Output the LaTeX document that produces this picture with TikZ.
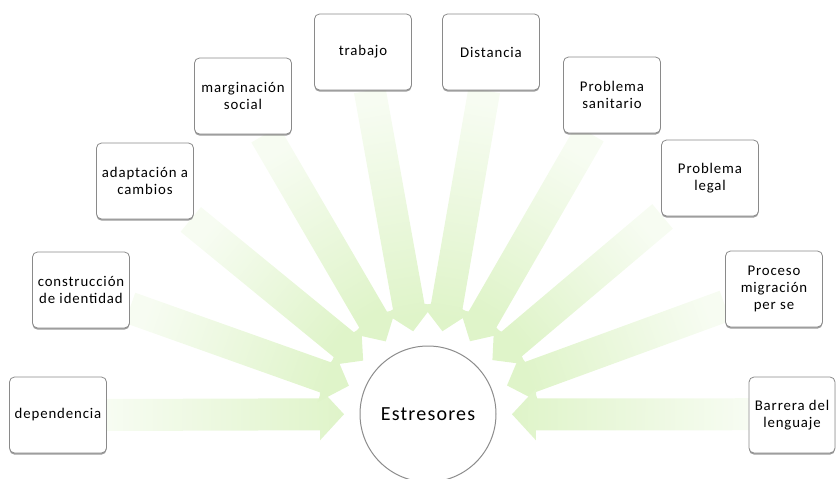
\documentclass[tikz,border=0pt]{standalone}
\usepackage{fontspec}
\setmainfont{Carlito}[LetterSpace=6]
\usetikzlibrary{calc, shadows}

\pgfdeclarelayer{bg}
\pgfsetlayers{bg,main}

\definecolor{arrowtip}{HTML}{DFF4C9}
\definecolor{arrowtail}{HTML}{F7FCF2}
\definecolor{boxline}{HTML}{8A8A8A}

\tikzset{
    stressor/.style={draw=boxline, fill=white, line width=.8pt, rounded corners=5pt,
        minimum width=97pt, minimum height=76pt, inner sep=2pt, align=center,
        font=\fontsize{14.8}{17}\selectfont,
        drop shadow={shadow xshift=0pt, shadow yshift=-1.6pt, fill=black!55, opacity=.7}},
    hub/.style={circle, draw=black!45, fill=white, line width=1pt, minimum size=136pt,
        inner sep=0pt, font=\fontsize{20}{24}\selectfont},
}

\begin{document}
\begin{tikzpicture}[x=1pt, y=-1pt]
    \useasboundingbox (0,0) rectangle (836,479);

    % stressors round the hub
    \node[stressor] (dep)   at (58,415)  {dependencia};
    \node[stressor] (cons)  at (81,290)  {construcción\\de identidad};
    \node[stressor] (adap)  at (145,181) {adaptación a\\cambios};
    \node[stressor] (marg)  at (243,96)  {marginación\\social};
    \node[stressor] (trab)  at (363,52)  {trabajo};
    \node[stressor] (dist)  at (491,52)  {Distancia};
    \node[stressor] (sani)  at (612,95)  {Problema\\sanitario};
    \node[stressor] (legal) at (710,178) {Problema\\legal};
    \node[stressor] (proc)  at (774,289) {Proceso\\migración\\per se};
    \node[stressor, minimum width=86pt] (barr) at (792,415) {Barrera del\\lenguaje};

    \node[hub] (hub) at (428,414) {Estresores};

    % block arrows towards the hub
    \begin{pgfonlayer}{bg}
    \foreach \b in {dep,cons,adap,marg,trab,dist,sani,legal,proc,barr}{
        \pgfmathanglebetweenpoints{\pgfpointanchor{\b}{center}}{\pgfpointanchor{hub}{center}}
        \let\ang\pgfmathresult
        \shade[bottom color=arrowtail, top color=arrowtip, shading angle=\ang-90]
            let \p1=(\b.\ang), \p2=($(hub)!84pt!(\b)$), \p3=($(\p2)+(\ang+180:24pt)$) in
            ($(\p1)+(\ang+90:16pt)$) -- ($(\p3)+(\ang+90:16pt)$) -- ($(\p3)+(\ang+90:26pt)$)
            -- (\p2) -- ($(\p3)+(\ang-90:26pt)$) -- ($(\p3)+(\ang-90:16pt)$)
            -- ($(\p1)+(\ang-90:16pt)$) -- cycle;
    }
    \end{pgfonlayer}
\end{tikzpicture}
\end{document}
